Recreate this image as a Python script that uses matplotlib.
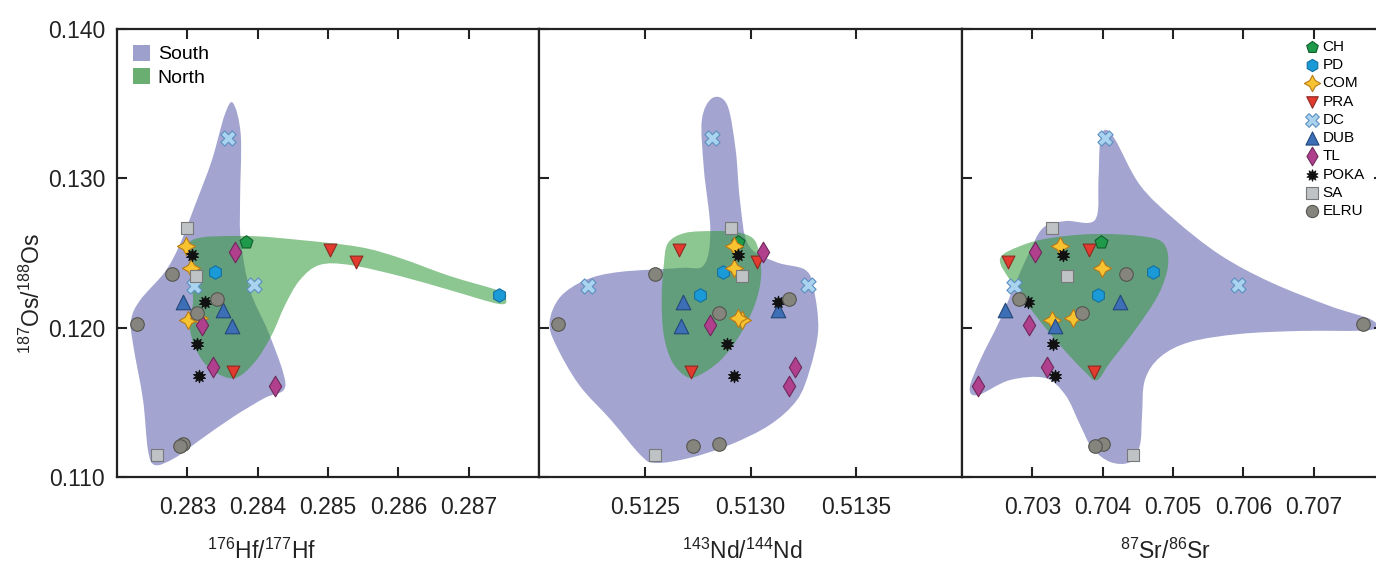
import numpy as np
import matplotlib
matplotlib.use('Agg')
import matplotlib.pyplot as plt
from matplotlib.path import Path
from matplotlib.patches import PathPatch, Patch

plt.rcParams['font.family'] = ['Liberation Sans', 'DejaVu Sans']
plt.rcParams['mathtext.default'] = 'regular'

groups = ['CH', 'PD', 'COM', 'PRA', 'DC', 'DUB', 'TL', 'POKA', 'SA', 'ELRU']

# 187Os/188Os of each sample, and its Hf, Nd and Sr ratios
os_ratio = {
    'CH': [0.12574],
    'PD': [0.12373, 0.12219],
    'COM': [0.12547, 0.12400, 0.12051, 0.12065],
    'PRA': [0.12520, 0.12440, 0.11703],
    'DC': [0.13270, 0.12279, 0.12286],
    'DUB': [0.12170, 0.12118, 0.12011],
    'TL': [0.12507, 0.12018, 0.11737, 0.11609],
    'POKA': [0.12487, 0.12172, 0.11891, 0.11676],
    'SA': [0.12667, 0.12346, 0.11147],
    'ELRU': [0.12359, 0.12192, 0.12098, 0.12025, 0.11221, 0.11208],
}
hf_ratio = {
    'CH': [0.28383],
    'PD': [0.28339, 0.28743],
    'COM': [0.28298, 0.28305, 0.28301, 0.28316],
    'PRA': [0.28503, 0.28540, 0.28365],
    'DC': [0.28358, 0.28309, 0.28395],
    'DUB': [0.28294, 0.28351, 0.28363],
    'TL': [0.28368, 0.28321, 0.28336, 0.28424],
    'POKA': [0.28307, 0.28325, 0.28314, 0.28316],
    'SA': [0.28299, 0.28312, 0.28257],
    'ELRU': [0.28278, 0.28342, 0.28314, 0.28228, 0.28294, 0.28289],
}
nd_ratio = {
    'CH': [0.51294],
    'PD': [0.51287, 0.51276],
    'COM': [0.51292, 0.51292, 0.51296, 0.51294],
    'PRA': [0.51266, 0.51303, 0.51272],
    'DC': [0.51282, 0.51223, 0.51327],
    'DUB': [0.51268, 0.51313, 0.51267],
    'TL': [0.51306, 0.51281, 0.51321, 0.51318],
    'POKA': [0.51294, 0.51313, 0.51289, 0.51292],
    'SA': [0.51291, 0.51296, 0.51255],
    'ELRU': [0.51255, 0.51318, 0.51285, 0.51209, 0.51285, 0.51273],
}
sr_ratio = {
    'CH': [0.70398],
    'PD': [0.70472, 0.70393],
    'COM': [0.70339, 0.70399, 0.70328, 0.70358],
    'PRA': [0.70381, 0.70265, 0.70388],
    'DC': [0.70403, 0.70274, 0.70593],
    'DUB': [0.70425, 0.70261, 0.70332],
    'TL': [0.70304, 0.70295, 0.70321, 0.70223],
    'POKA': [0.70344, 0.70294, 0.70329, 0.70332],
    'SA': [0.70328, 0.70349, 0.70443],
    'ELRU': [0.70433, 0.70281, 0.70371, 0.70770, 0.70401, 0.70389],
}

# field outlines (x ratio, Os ratio)
south_hf = [(0.28365, 0.13504), (0.28376, 0.13290), (0.28375, 0.12855), (0.28376, 0.12587),
            (0.28389, 0.12252), (0.28414, 0.11984), (0.28436, 0.11703), (0.28437, 0.11583),
            (0.28410, 0.11529), (0.28365, 0.11402), (0.28318, 0.11248), (0.28282, 0.11127),
            (0.28254, 0.11080), (0.28244, 0.11181), (0.28237, 0.11516), (0.28223, 0.11884),
            (0.28220, 0.12051), (0.28233, 0.12185), (0.28268, 0.12373), (0.28289, 0.12554),
            (0.28311, 0.12821), (0.28335, 0.13123), (0.28353, 0.13424)]
north_hf = [(0.28307, 0.12587), (0.28382, 0.12614), (0.28460, 0.12587), (0.28545, 0.12540),
            (0.28602, 0.12467), (0.28673, 0.12346), (0.28744, 0.12246), (0.28753, 0.12199),
            (0.28744, 0.12158), (0.28673, 0.12252), (0.28602, 0.12346), (0.28531, 0.12420),
            (0.28488, 0.12420), (0.28460, 0.12319), (0.28439, 0.12152), (0.28420, 0.11951),
            (0.28396, 0.11770), (0.28368, 0.11663), (0.28339, 0.11703), (0.28318, 0.11804),
            (0.28304, 0.11984), (0.28308, 0.12185), (0.28304, 0.12420)]
south_nd = [(0.51282, 0.13538), (0.51289, 0.13491), (0.51293, 0.13190), (0.51295, 0.12855),
            (0.51299, 0.12554), (0.51312, 0.12440), (0.51326, 0.12386), (0.51330, 0.12252),
            (0.51332, 0.11984), (0.51328, 0.11717), (0.51322, 0.11516), (0.51309, 0.11348),
            (0.51290, 0.11214), (0.51271, 0.11127), (0.51255, 0.11094), (0.51248, 0.11147),
            (0.51234, 0.11382), (0.51219, 0.11616), (0.51208, 0.11884), (0.51205, 0.12038),
            (0.51210, 0.12205), (0.51222, 0.12319), (0.51238, 0.12373), (0.51267, 0.12400),
            (0.51278, 0.12420), (0.51281, 0.12654), (0.51278, 0.13056), (0.51277, 0.13391)]
north_nd = [(0.51282, 0.12647), (0.51293, 0.12641), (0.51301, 0.12600), (0.51304, 0.12507),
            (0.51305, 0.12339), (0.51302, 0.12152), (0.51295, 0.11951), (0.51286, 0.11784),
            (0.51276, 0.11683), (0.51270, 0.11670), (0.51263, 0.11770), (0.51259, 0.11951),
            (0.51258, 0.12185), (0.51259, 0.12420), (0.51261, 0.12567), (0.51269, 0.12634)]
south_sr = [(0.70403, 0.13324), (0.70418, 0.13257), (0.70453, 0.12955), (0.70503, 0.12721),
            (0.70567, 0.12487), (0.70638, 0.12306), (0.70723, 0.12145), (0.70783, 0.12051),
            (0.70780, 0.11984), (0.70681, 0.11978), (0.70595, 0.11958), (0.70524, 0.11904),
            (0.70482, 0.11804), (0.70460, 0.11649), (0.70456, 0.11415), (0.70453, 0.11214),
            (0.70439, 0.11100), (0.70411, 0.11100), (0.70385, 0.11194), (0.70368, 0.11348),
            (0.70347, 0.11549), (0.70318, 0.11663), (0.70268, 0.11649), (0.70223, 0.11549),
            (0.70211, 0.11596), (0.70226, 0.11784), (0.70254, 0.12051), (0.70275, 0.12286),
            (0.70294, 0.12487), (0.70315, 0.12667), (0.70347, 0.12714), (0.70389, 0.12721),
            (0.70394, 0.12989), (0.70396, 0.13223)]
north_sr = [(0.70254, 0.12460), (0.70283, 0.12547), (0.70325, 0.12600), (0.70386, 0.12627),
            (0.70453, 0.12614), (0.70486, 0.12567), (0.70493, 0.12420), (0.70479, 0.12219),
            (0.70446, 0.11984), (0.70411, 0.11770), (0.70392, 0.11649), (0.70375, 0.11703),
            (0.70339, 0.11884), (0.70304, 0.12085), (0.70271, 0.12299)]

SOUTH = '#a3a5d0'
NORTH = '#2e9737'

styles = {
    'CH':   dict(marker='p', s=95, fc='#1f9a4a', ec='#0f5e2a'),
    'PD':   dict(marker='h', s=95, fc='#1b9ad8', ec='#1470a0'),
    'COM':  dict(marker=(4, 1, 0), s=170, fc='#f7c331', ec='#b87a18'),
    'PRA':  dict(marker='v', s=85, fc='#e23a2e', ec='#8c2a22'),
    'DC':   dict(marker='X', s=120, fc='#a9d3ee', ec='#5d8fc0'),
    'DUB':  dict(marker='^', s=110, fc='#3c6fb6', ec='#24477a'),
    'TL':   dict(marker='d', s=110, fc='#b0408e', ec='#6d2a5a'),
    'POKA': dict(marker=(10, 1, 0), s=80, fc='#111111', ec='#111111'),
    'SA':   dict(marker='s', s=85, fc='#c0c3c6', ec='#77797b'),
    'ELRU': dict(marker='o', s=95, fc='#85857e', ec='#55554f'),
}


def smooth_field(ax, pts, color, alpha):
    # closed Catmull-Rom outline turned into cubic Bezier segments
    p = np.asarray(pts)
    n = len(p)
    verts = [p[0]]
    codes = [Path.MOVETO]
    for i in range(n):
        p0, p1, p2, p3 = p[i - 1], p[i], p[(i + 1) % n], p[(i + 2) % n]
        verts += [p1 + (p2 - p0) / 6, p2 - (p3 - p1) / 6, p2]
        codes += [Path.CURVE4] * 3
    ax.add_patch(PathPatch(Path(verts, codes), fc=color, ec='none', alpha=alpha, zorder=1))


fig = plt.figure(figsize=(13.76, 5.62), dpi=100)
bottom, height = 85 / 562, 448 / 562
ax1 = fig.add_axes([117 / 1376, bottom, 422 / 1376, height])
ax2 = fig.add_axes([539 / 1376, bottom, 423 / 1376, height])
ax3 = fig.add_axes([962 / 1376, bottom, 422 / 1376, height])

panels = [
    (ax1, hf_ratio, south_hf, north_hf, (0.282, 0.288), [0.283, 0.284, 0.285, 0.286, 0.287],
     ['0.283', '0.284', '0.285', '0.286', '0.287'], '$^{176}$Hf/$^{177}$Hf', 0.344),
    (ax2, nd_ratio, south_nd, north_nd, (0.512, 0.514), [0.5125, 0.5130, 0.5135],
     ['0.5125', '0.5130', '0.5135'], '$^{143}$Nd/$^{144}$Nd', 0.48),
    (ax3, sr_ratio, south_sr, north_sr, (0.702, 0.708), [0.703, 0.704, 0.705, 0.706, 0.707],
     ['0.703', '0.704', '0.705', '0.706', '0.707'], '$^{87}$Sr/$^{86}$Sr', 0.483),
]

for ax, xdata, south, north, xlim, xt, xtl, xlabel, lx in panels:
    smooth_field(ax, south, SOUTH, 1.0)
    smooth_field(ax, north, NORTH, 0.55)
    for g in groups:
        st = styles[g]
        ax.scatter(xdata[g], os_ratio[g], marker=st['marker'], s=st['s'], facecolor=st['fc'],
                   edgecolor=st['ec'], linewidth=0.8, zorder=3, label=g)
    ax.set_xlim(*xlim)
    ax.set_ylim(0.110, 0.140)
    ax.set_xticks(xt)
    ax.set_xticklabels(xtl)
    ax.set_yticks([0.110, 0.120, 0.130, 0.140])
    ax.tick_params(direction='in', length=7, width=1.5, top=True, left=True,
                   right=(ax is ax3), labelsize=16.5, pad=8.5, colors='#222222')
    ax.tick_params(axis='x', pad=14)
    for sp in ax.spines.values():
        sp.set_linewidth(1.6)
        sp.set_color('#222222')
    ax.set_xlabel(xlabel, fontsize=16.5, va='center', color='#222222')
    ax.xaxis.set_label_coords(lx, -0.165)
    if ax is not ax1:
        ax.tick_params(labelleft=False)

ax1.set_yticklabels(['0.110', '0.120', '0.130', '0.140'])
ax1.set_ylabel('$^{187}$Os/$^{188}$Os', fontsize=16.5, va='center', color='#222222')
ax1.yaxis.set_label_coords(-0.2, 0.41)

ax1.legend(handles=[Patch(fc='#9d9fcc', ec='none', label='South'),
                    Patch(fc='#6aae72', ec='none', label='North')],
           loc='upper left', frameon=False, fontsize=14, handlelength=0.9, handleheight=0.9,
           handletextpad=0.4, labelspacing=0.25, borderaxespad=0.4)

ax3.legend(loc='upper left', bbox_to_anchor=(0.787, 1.0), frameon=False, fontsize=11,
           handlelength=1.0, handletextpad=0.15, labelspacing=0.28, borderaxespad=0.3,
           scatterpoints=1, markerscale=0.9)

fig.savefig('out.png', dpi=100)
